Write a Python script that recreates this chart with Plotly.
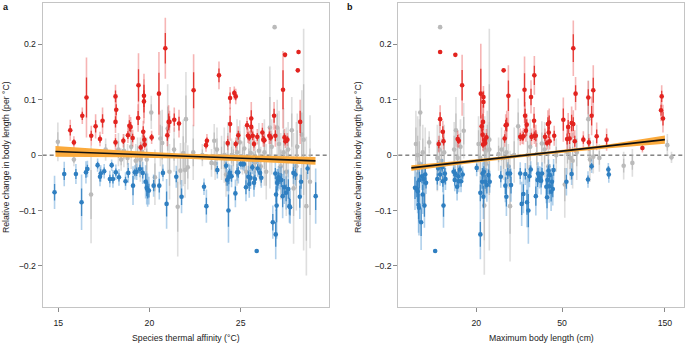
import plotly.graph_objects as go

# ---------------- Panel a : species thermal affinity (°C) ----------------
a_red_x = [15.66, 15.86, 16.32, 16.55, 16.81, 17.05, 17.29, 17.43, 18.14, 18.18, 18.14, 18.14, 18.57, 18.82, 18.9, 18.97,
           19.08, 19.4, 19.38, 19.52, 19.66, 19.7, 19.7, 19.72, 19.74, 20.12, 20.52, 20.87, 20.98, 21.05, 21.1, 21.36,
           21.62, 22.42, 23.1, 23.15, 23.81, 24.29, 24.42, 24.42, 24.65, 24.73, 24.73, 24.87, 25.35, 25.4, 25.47, 25.58,
           25.58, 25.66, 25.73, 25.91, 26.19, 26.24, 26.3, 26.57, 26.65, 26.83, 26.9, 27.32, 27.43, 27.4, 27.45, 27.56,
           28.13, 28.17, 28.26]
a_red_y = [0.045, 0.023, 0.071, 0.104, 0.035, 0.052, 0.029, 0.062, 0.106, 0.082, 0.060, 0.023, 0.026, 0.036, 0.053, 0.051,
           0.031, 0.126, 0.067, 0.014, 0.042, 0.097, 0.107, 0.028, 0.019, 0.032, 0.111, 0.193, 0.036, 0.060, 0.060, 0.064,
           0.057, 0.117, 0.018, 0.026, 0.144, 0.022, 0.056, 0.103, 0.112, 0.106, 0.020, 0.036, 0.054, 0.035, 0.032, 0.066,
           0.051, 0.035, 0.020, 0.033, 0.041, 0.028, 0.027, 0.035, 0.032, 0.071, 0.035, 0.118, 0.181, 0.032, 0.025, 0.028,
           0.153, 0.186, 0.060]
a_red_err = [0.019, 0.011, 0.015, 0.072, 0.018, 0.022, 0.013, 0.024, 0.021, 0.020, 0.020, 0.015, 0.012, 0.014, 0.020, 0.018,
             0.015, 0.058, 0.025, 0.010, 0.020, 0.040, 0.040, 0.014, 0.010, 0.012, 0.075, 0.055, 0.020, 0.030, 0.020, 0.022,
             0.025, 0.065, 0.012, 0.012, 0.025, 0.013, 0.030, 0.020, 0.012, 0.014, 0.012, 0.016, 0.015, 0.013, 0.012, 0.030,
             0.020, 0.015, 0.012, 0.014, 0.017, 0.013, 0.012, 0.015, 0.012, 0.025, 0.020, 0.070, 0.005, 0.015, 0.012, 0.012,
             0.004, 0.004, 0.040]

a_blue_x = [14.8, 15.33, 15.97, 16.28, 16.52, 16.6, 17.16, 17.29, 17.33, 17.52, 17.83, 17.93, 18.0, 18.16, 18.33, 18.69,
            18.84, 19.1, 19.2, 19.3, 19.48, 19.63, 19.79, 19.85, 19.9, 19.97, 20.23, 20.54, 20.74, 20.94, 21.47, 21.76,
            22.99, 23.12, 23.72, 24.2, 24.26, 24.35, 24.4, 24.33, 24.5, 24.71, 24.8, 24.87, 25.0, 25.09, 25.18, 25.29,
            25.42, 25.47, 25.54, 25.64, 25.73, 25.78, 25.88, 25.93, 26.06, 26.13, 26.76, 26.92, 26.9, 26.94, 27.0, 27.05,
            27.07, 27.15, 26.97, 27.23, 27.3, 27.39, 27.49, 27.61, 27.67, 27.71, 27.89, 28.0, 28.24, 28.31, 28.67, 29.11]
a_blue_y = [-0.067, -0.034, -0.034, -0.085, -0.031, -0.025, -0.018, -0.039, -0.033, -0.029, -0.043, -0.018, -0.043, -0.031,
            -0.040, -0.047, -0.032, -0.055, -0.031, -0.030, -0.025, -0.032, -0.048, -0.059, -0.063, -0.064, -0.055, -0.055,
            -0.032, -0.088, -0.039, -0.075, -0.057, -0.092, -0.027, -0.019, -0.045, -0.040, -0.032, -0.100, -0.038, -0.069,
            -0.031, -0.031, -0.016, -0.016, -0.016, -0.058, -0.039, -0.052, -0.041, -0.022, -0.050, -0.043, -0.173, -0.024,
            -0.032, -0.041, -0.121, -0.143, -0.033, -0.071, -0.050, -0.045, -0.040, -0.042, -0.091, -0.045, -0.074, -0.058,
            -0.068, -0.061, -0.092, -0.094, -0.032, -0.035, -0.075, -0.048, -0.024, -0.074]
a_blue_err = [0.030, 0.022, 0.018, 0.050, 0.020, 0.015, 0.012, 0.017, 0.015, 0.013, 0.015, 0.010, 0.016, 0.014, 0.015, 0.016,
              0.018, 0.035, 0.013, 0.015, 0.015, 0.020, 0.030, 0.030, 0.030, 0.025, 0.020, 0.025, 0.015, 0.045, 0.020, 0.030,
              0.015, 0.030, 0.015, 0.012, 0.020, 0.025, 0.015, 0.058, 0.020, 0.025, 0.015, 0.020, 0.010, 0.010, 0.012, 0.025,
              0.020, 0.025, 0.020, 0.012, 0.025, 0.015, 0.000, 0.015, 0.015, 0.018, 0.030, 0.045, 0.020, 0.030, 0.025, 0.020,
              0.020, 0.020, 0.060, 0.025, 0.040, 0.030, 0.030, 0.035, 0.030, 0.030, 0.020, 0.020, 0.040, 0.025, 0.020, 0.050]

a_gray_x = [14.98, 15.86, 16.8, 17.6, 18.3, 18.45, 18.6, 18.8, 19.0, 19.25, 19.35, 19.5, 19.6, 19.85, 20.1, 20.3, 20.6,
            20.7, 21.0, 21.1, 21.35, 21.55, 21.7, 21.85, 21.95, 22.0, 22.1, 22.4, 22.9, 23.4, 23.55, 23.6, 23.7, 23.95,
            24.1, 24.2, 24.3, 24.5, 24.6, 24.8, 24.95, 25.1, 25.2, 25.3, 25.45, 25.55, 25.7, 25.8, 26.0, 26.1, 26.3, 26.4,
            26.6, 26.7, 26.86, 27.0, 27.1, 27.2, 27.35, 27.5, 27.6, 27.8, 27.9, 28.05, 28.1, 28.35, 28.45, 28.6, 28.8]
a_gray_y = [0.024, -0.008, -0.071, 0.010, 0.010, -0.008, 0.008, -0.005, 0.015, -0.010, 0.002, -0.008, 0.006, -0.008, 0.077,
            -0.040, 0.030, 0.022, 0.048, -0.030, 0.010, -0.093, -0.028, 0.004, -0.027, 0.065, -0.022, 0.005, 0.000, -0.014,
            0.026, -0.015, 0.010, -0.005, 0.000, -0.035, 0.020, 0.000, -0.005, 0.005, 0.023, -0.005, 0.012, -0.030, -0.008,
            0.004, -0.010, -0.013, 0.008, -0.020, 0.005, -0.030, 0.050, 0.015, 0.231, 0.050, 0.020, -0.020, 0.005, -0.030,
            0.010, 0.045, -0.060, -0.020, 0.015, 0.037, 0.028, -0.092, -0.048]
a_gray_err = [0.035, 0.012, 0.088, 0.020, 0.030, 0.020, 0.030, 0.025, 0.040, 0.030, 0.030, 0.040, 0.030, 0.040, 0.030,
              0.050, 0.050, 0.060, 0.080, 0.050, 0.040, 0.090, 0.050, 0.060, 0.050, 0.085, 0.040, 0.050, 0.020, 0.025,
              0.030, 0.030, 0.040, 0.040, 0.050, 0.040, 0.040, 0.030, 0.030, 0.060, 0.040, 0.030, 0.040, 0.030, 0.040,
              0.050, 0.030, 0.040, 0.050, 0.035, 0.060, 0.050, 0.110, 0.050, 0.000, 0.050, 0.060, 0.060, 0.080, 0.080,
              0.050, 0.060, 0.100, 0.080, 0.060, 0.080, 0.200, 0.125, 0.120]

a_fit_x = [14.85, 18.5, 22.0, 25.5, 29.1]
a_fit_y = [0.0066, 0.0023, -0.0019, -0.0060, -0.0103]
a_fit_lo = [-0.0031, -0.0039, -0.0064, -0.0115, -0.0173]
a_fit_hi = [0.0163, 0.0085, 0.0026, -0.0005, -0.0033]

# ---------------- Panel b : maximum body length (cm) ----------------
b_red_x = [13.4, 13.6, 13.6, 14.0, 14.1, 16.0, 16.4, 16.6, 17.2, 21.0, 21.2, 21.4, 21.5, 21.6, 21.6, 21.5, 22.3, 22.0, 21.8,
           26.8, 27.1, 27.4, 27.7, 28.2, 32.0, 32.7, 33.1, 33.5, 33.7, 34.0, 34.3, 35.9, 36.1, 37.1, 37.2, 37.2, 37.8,
           41.7, 42.6, 43.0, 43.6, 43.4, 43.8, 46.0, 50.7, 52.8, 53.4, 54.2, 55.4, 56.4, 56.4, 57.3, 57.8, 62.8, 66.2,
           66.6, 68.6, 69.8, 72.4, 80.5, 118, 144, 145, 147]
b_red_y = [0.020, 0.065, 0.186, 0.042, 0.025, 0.181, 0.029, 0.026, 0.126, 0.111, 0.052, 0.037, 0.019, 0.105, 0.096, 0.060,
           0.032, 0.022, 0.027, 0.153, 0.030, 0.054, 0.055, 0.107, 0.033, 0.032, 0.034, 0.118, 0.071, 0.044, 0.055, 0.105,
           0.033, 0.062, 0.144, 0.035, 0.035, 0.033, 0.022, 0.056, 0.059, 0.041, 0.025, 0.035, 0.064, 0.029, 0.051, 0.030,
           0.058, 0.193, 0.056, 0.025, 0.111, 0.028, 0.104, 0.023, 0.071, 0.117, 0.034, 0.028, 0.013, 0.081, 0.106, 0.066]
b_red_err = [0.015, 0.025, 0.003, 0.020, 0.015, 0.003, 0.015, 0.012, 0.055, 0.090, 0.020, 0.020, 0.012, 0.020, 0.020, 0.030,
             0.015, 0.012, 0.012, 0.004, 0.015, 0.020, 0.025, 0.055, 0.015, 0.012, 0.015, 0.060, 0.025, 0.020, 0.020, 0.030,
             0.015, 0.025, 0.035, 0.015, 0.020, 0.015, 0.012, 0.025, 0.025, 0.020, 0.015, 0.018, 0.040, 0.020, 0.025, 0.020,
             0.030, 0.050, 0.025, 0.020, 0.030, 0.015, 0.030, 0.015, 0.035, 0.045, 0.025, 0.020, 0.008, 0.020, 0.020, 0.025]

b_blue_x = [10.4, 10.6, 10.7, 10.8, 10.85, 10.9, 11.2, 11.1, 11.3, 11.4, 11.5, 11.6, 11.7, 12.9, 13.2, 13.3, 13.6, 13.9,
            14.0, 14.1, 14.3, 14.4, 15.7, 15.9, 16.0, 16.3, 16.5, 16.6, 16.8, 17.0, 17.3, 20.1, 20.9, 20.9, 21.3, 21.4,
            21.6, 21.7, 22.0, 22.4, 22.8, 23.1, 26.0, 27.3, 27.6, 28.0, 28.7, 29.0, 32.0, 32.5, 33.1, 33.8, 34.4, 34.9,
            35.3, 35.8, 37.8, 38.5, 38.7, 39.3, 40.0, 40.4, 42.3, 42.6, 42.8, 43.3, 43.6, 43.9, 44.5, 44.9, 45.3, 45.7,
            52.4, 55.4, 66.0, 68.6, 82.0, 82.4]
b_blue_y = [-0.059, -0.061, -0.065, -0.090, -0.095, -0.045, -0.038, -0.121, -0.071, -0.043, -0.091, -0.035, -0.050, -0.173,
            -0.043, -0.023, -0.035, -0.022, -0.047, -0.091, -0.033, -0.043, -0.030, -0.045, -0.033, -0.057, -0.038, -0.047,
            -0.026, -0.047, -0.035, -0.023, -0.143, -0.068, -0.048, -0.033, -0.075, -0.030, -0.048, -0.054, -0.036, -0.048,
            -0.039, -0.055, -0.075, -0.033, -0.033, -0.054, -0.033, -0.088, -0.070, -0.034, -0.085, -0.100, -0.038, -0.026,
            -0.074, -0.045, -0.033, -0.040, -0.046, -0.033, -0.057, -0.076, -0.045, -0.028, -0.056, -0.036, -0.066, -0.048,
            -0.061, -0.027, -0.048, -0.034, -0.044, -0.020, -0.026, -0.035]
b_blue_err = [0.040, 0.030, 0.040, 0.050, 0.050, 0.030, 0.025, 0.050, 0.035, 0.020, 0.040, 0.020, 0.020, 0.000, 0.020, 0.012,
              0.020, 0.015, 0.020, 0.040, 0.020, 0.020, 0.015, 0.020, 0.015, 0.025, 0.020, 0.020, 0.015, 0.020, 0.015, 0.015,
              0.045, 0.030, 0.025, 0.020, 0.040, 0.020, 0.025, 0.030, 0.020, 0.020, 0.020, 0.030, 0.035, 0.020, 0.015, 0.030,
              0.020, 0.040, 0.035, 0.020, 0.045, 0.060, 0.020, 0.015, 0.035, 0.025, 0.020, 0.020, 0.025, 0.020, 0.030, 0.040,
              0.025, 0.020, 0.030, 0.020, 0.035, 0.025, 0.030, 0.020, 0.025, 0.020, 0.015, 0.012, 0.012, 0.015]

b_gray_x = [10.5, 10.7, 10.9, 11.0, 11.3, 11.6, 12.1, 13.2, 13.5, 13.6, 13.8, 14.2, 15.8, 16.1, 16.4, 16.9, 17.5, 20.5,
            20.9, 21.8, 21.9, 22.2, 22.5, 23.0, 23.0, 25.4, 26.2, 26.8, 27.6, 28.2, 28.7, 30.0, 31.3, 34.6, 35.6, 38.2,
            40.3, 41.5, 43.2, 47.0, 51.5, 53.0, 54.5, 56.0, 58.5, 66.2, 67.4, 69.8, 74.5, 96.6, 106, 154, 161]
b_gray_y = [0.020, 0.000, -0.015, 0.077, 0.005, -0.020, 0.023, -0.005, 0.010, 0.231, -0.010, 0.005, 0.010, 0.045, -0.005,
            0.015, 0.044, 0.020, -0.005, -0.091, 0.010, -0.015, 0.030, 0.010, 0.028, 0.002, 0.010, -0.005, 0.005, -0.020,
            -0.092, 0.000, 0.052, 0.000, 0.015, 0.002, 0.021, 0.010, -0.020, 0.000, -0.053, 0.005, -0.005, -0.010, 0.005,
            0.065, -0.008, -0.003, -0.005, -0.019, -0.014, 0.018, -0.004]
b_gray_err = [0.060, 0.070, 0.080, 0.050, 0.050, 0.070, 0.020, 0.060, 0.050, 0.000, 0.040, 0.050, 0.050, 0.060, 0.050,
              0.050, 0.050, 0.050, 0.060, 0.125, 0.060, 0.050, 0.050, 0.050, 0.200, 0.030, 0.040, 0.040, 0.050, 0.040,
              0.100, 0.050, 0.050, 0.050, 0.050, 0.040, 0.040, 0.050, 0.040, 0.030, 0.060, 0.040, 0.040, 0.050, 0.050,
              0.070, 0.040, 0.030, 0.025, 0.025, 0.025, 0.020, 0.010]

b_fit_x = [10, 20, 40, 80, 150]
b_fit_y = [-0.0230, -0.0102, 0.0026, 0.0154, 0.0280]
b_fit_lo = [-0.0280, -0.0132, 0.0001, 0.0119, 0.0205]
b_fit_hi = [-0.0180, -0.0072, 0.0051, 0.0189, 0.0355]

y_tickvals = [-0.2, -0.1, 0, 0.1, 0.2]
y_ticktext = ["\u22120.2", "\u22120.1", "0", "0.1", "0.2"]
a_tickvals = [15, 20, 25]
b_tickvals = [20, 50, 150]

COLORS = {
    "gray": ("#bababa", "rgba(190,190,190,0.5)", "rgba(180,180,180,0.7)"),
    "blue": ("#2f7fc1", "rgba(80,150,210,0.45)", "rgba(47,127,193,0.85)"),
    "red": ("#e2231f", "rgba(235,90,90,0.45)", "rgba(226,35,31,0.85)"),
}

fig = go.Figure()


def add_group(xs, ys, errs, key, xa, ya):
    pt, outer, inner = COLORS[key]
    fig.add_trace(go.Scatter(x=xs, y=ys, mode="markers", xaxis=xa, yaxis=ya,
                             marker=dict(size=1, color="rgba(0,0,0,0)"),
                             error_y=dict(type="data", array=errs, color=outer, thickness=1.6, width=0),
                             hoverinfo="skip", showlegend=False))
    fig.add_trace(go.Scatter(x=xs, y=ys, mode="markers", xaxis=xa, yaxis=ya,
                             marker=dict(size=4.6, color=pt),
                             error_y=dict(type="data", array=[e * 0.5 for e in errs], color=inner,
                                          thickness=1.3, width=0),
                             showlegend=False))


def add_fit(xs, ys, lo, hi, xa, ya):
    fig.add_trace(go.Scatter(x=xs + xs[::-1], y=hi + lo[::-1], mode="lines", fill="toself",
                             fillcolor="#fbaa3c", line=dict(width=0), xaxis=xa, yaxis=ya,
                             hoverinfo="skip", showlegend=False))
    fig.add_trace(go.Scatter(x=xs, y=ys, mode="lines", line=dict(color="#111111", width=1.6),
                             xaxis=xa, yaxis=ya, showlegend=False))


add_group(a_gray_x, a_gray_y, a_gray_err, "gray", "x", "y")
add_group(a_blue_x, a_blue_y, a_blue_err, "blue", "x", "y")
add_group(a_red_x, a_red_y, a_red_err, "red", "x", "y")
add_fit(a_fit_x, a_fit_y, a_fit_lo, a_fit_hi, "x", "y")

add_group(b_gray_x, b_gray_y, b_gray_err, "gray", "x2", "y2")
add_group(b_blue_x, b_blue_y, b_blue_err, "blue", "x2", "y2")
add_group(b_red_x, b_red_y, b_red_err, "red", "x2", "y2")
add_fit(b_fit_x, b_fit_y, b_fit_lo, b_fit_hi, "x2", "y2")

W, H = 685, 343
FONT = "Liberation Sans, Arial, sans-serif"
axis_common = dict(showline=True, mirror=True, linecolor="#c4c4c4", linewidth=1, showgrid=False,
                   zeroline=False, ticks="outside", ticklen=4, tickcolor="#8a8a8a", tickwidth=1,
                   tickfont=dict(size=8.7, color="#222", family=FONT))

fig.update_layout(
    width=W, height=H, margin=dict(l=0, r=0, t=0, b=0),
    paper_bgcolor="white", plot_bgcolor="white", showlegend=False,
    font=dict(family=FONT, size=8.7, color="#222"),
    xaxis=dict(domain=[42.7 / W, 329 / W], range=[14.15, 29.84], tickvals=a_tickvals,
               anchor="y", ticklabelstandoff=4, **axis_common),
    yaxis=dict(domain=[1 - 307 / H, 1 - 3.3 / H], range=[-0.274, 0.274], tickvals=y_tickvals,
               ticktext=y_ticktext, anchor="x", **axis_common),
    xaxis2=dict(domain=[398.3 / W, 684 / W], type="log", range=[0.9395, 2.2648], tickvals=b_tickvals,
                ticktext=[str(v) for v in b_tickvals], anchor="y2", ticklabelstandoff=4, **axis_common),
    yaxis2=dict(domain=[1 - 307 / H, 1 - 3.3 / H], range=[-0.274, 0.274], tickvals=y_tickvals,
                ticktext=y_ticktext, anchor="x2", **axis_common),
    shapes=[
        dict(type="line", xref="x domain", yref="y", x0=0, x1=1, y0=0, y1=0, layer="below",
             line=dict(color="#444", width=1, dash="4px,3px")),
        dict(type="line", xref="x2 domain", yref="y2", x0=0, x1=1, y0=0, y1=0, layer="below",
             line=dict(color="#444", width=1, dash="4px,3px")),
    ],
    annotations=[
        dict(text="<b>a</b>", x=1 / W, y=1 - 7 / H, xref="paper", yref="paper", showarrow=False,
             xanchor="left", yanchor="middle", font=dict(size=9, color="#111")),
        dict(text="<b>b</b>", x=345 / W, y=1 - 7 / H, xref="paper", yref="paper", showarrow=False,
             xanchor="left", yanchor="middle", font=dict(size=9, color="#111")),
        dict(text="Relative change in body length (per \u00b0C)", x=6 / W, y=1 - 157 / H, xref="paper",
             yref="paper", showarrow=False, textangle=-90, xanchor="center", yanchor="middle"),
        dict(text="Relative change in body length (per \u00b0C)", x=358 / W, y=1 - 157 / H, xref="paper",
             yref="paper", showarrow=False, textangle=-90, xanchor="center", yanchor="middle"),
        dict(text="Species thermal affinity (\u00b0C)", x=186 / W, y=1 - 338 / H, xref="paper",
             yref="paper", showarrow=False, xanchor="center", yanchor="middle"),
        dict(text="Maximum body length (cm)", x=541 / W, y=1 - 338 / H, xref="paper",
             yref="paper", showarrow=False, xanchor="center", yanchor="middle"),
    ],
)

fig.write_html("out.html", config={"displayModeBar": False, "staticPlot": True},
               post_script="document.body.style.margin='0px';document.body.style.overflow='hidden';")
